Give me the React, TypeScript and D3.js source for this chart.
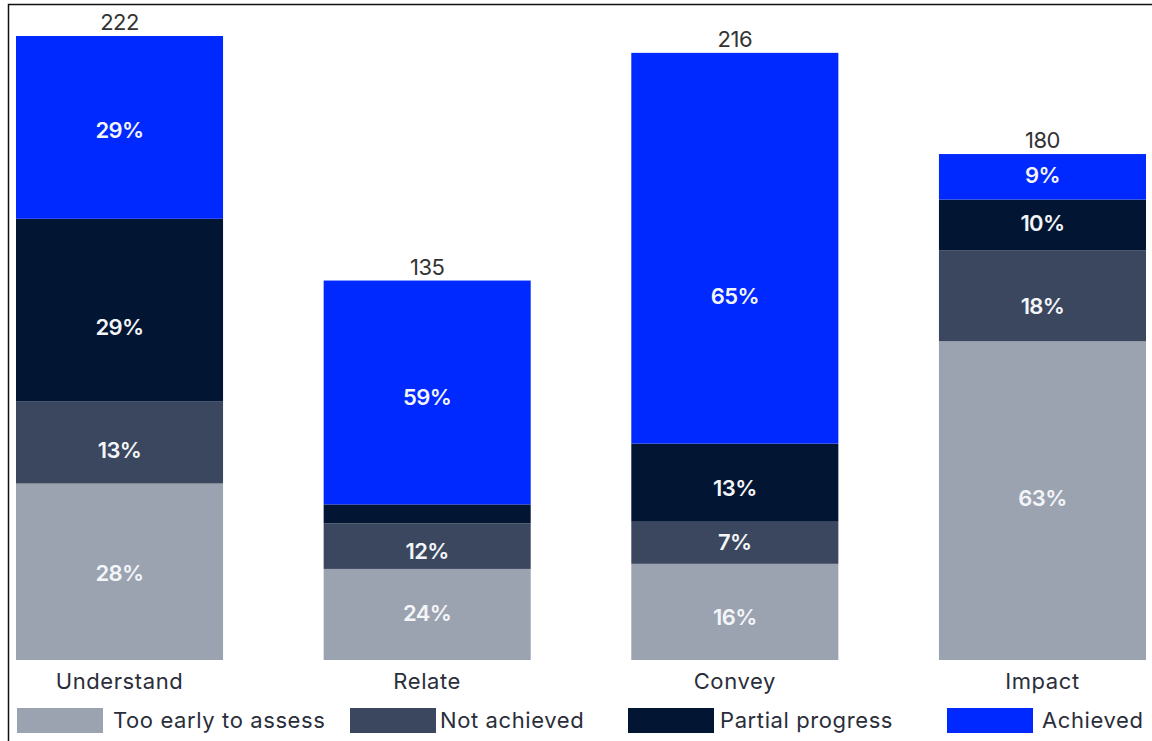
import React from "react";
import * as d3 from "d3";

const categories = ["Understand", "Relate", "Convey", "Impact"];
const totals = [222, 135, 216, 180];
const seriesNames = ["Too early to assess", "Not achieved", "Partial progress", "Achieved"];
// percentage shares per category, bottom to top
const tooEarly = [28, 24, 16, 63];
const notAchieved = [13, 12, 7, 18];
const partial = [29, 5, 13, 10];
const achieved = [29, 59, 65, 9];
const showLabel = [
  [true, true, true, true],
  [true, true, false, true],
  [true, true, true, true],
  [true, true, true, true],
];
const colors = ["#9ba3b0", "#3a475e", "#021634", "#0029ff"];

// layout: vertical nudge of each segment label from the segment middle (px)
const labelNudge = [
  [2, 8, 17, 3],
  [-1, 5, 0, 5],
  [5, 0, 6, 48],
  [-2, 11, -2, -2],
];

const W = 1152;
const H = 741;
const FONT = "Inter, 'Noto Sans', sans-serif";

export default function App() {
  const series = [tooEarly, notAchieved, partial, achieved];
  const x = d3.scaleBand<string>().domain(categories).range([16, 1146]).paddingInner(0.327).paddingOuter(0);
  const y = d3.scaleLinear().domain([0, d3.max(totals) as number]).range([660, 36]);

  const rows = categories.map((c, i) => {
    const obj: any = { cat: c };
    const sum = d3.sum(series, (s) => s[i]);
    seriesNames.forEach((s, j) => {
      obj[s] = (totals[i] * series[j][i]) / sum;
    });
    return obj;
  });
  const stack = d3.stack<any>().keys(seriesNames)(rows);

  const legendSwatchX = [17, 350, 628, 947];
  const legendTextX = [113, 440, 720, 1042];

  return (
    <svg width={W} height={H} style={{ position: "fixed", left: 0, top: 0, background: "#fff" }} fontFamily={FONT}>
      <rect x={0} y={0} width={W} height={H} fill="#fff" />
      <path d={`M8.5,${H} V4.5 H${W}`} fill="none" stroke="#111" strokeWidth={1.5} />
      {stack.map((layer, j) => (
        <g key={j}>
          {layer.map((d, i) => {
            const y0 = y(d[0]);
            const y1 = y(d[1]);
            return (
              <g key={i}>
                <rect x={x(categories[i])} y={y1} width={x.bandwidth()} height={y0 - y1} fill={colors[j]} />
                {showLabel[i][j] && (
                  <text
                    x={(x(categories[i]) as number) + x.bandwidth() / 2}
                    y={(y0 + y1) / 2 + labelNudge[i][j]}
                    dy="0.35em"
                    textAnchor="middle"
                    fill="#f4f5f8"
                    fontSize={22}
                    fontWeight={600}
                    letterSpacing={-0.6}
                  >
                    {series[j][i]}%
                  </text>
                )}
              </g>
            );
          })}
        </g>
      ))}
      {categories.map((c, i) => (
        <g key={c}>
          <text
            x={(x(c) as number) + x.bandwidth() / 2}
            y={y(totals[i]) - 6}
            textAnchor="middle"
            fill="#333"
            fontSize={22}
            letterSpacing={-0.5}
          >
            {totals[i]}
          </text>
          <text
            x={(x(c) as number) + x.bandwidth() / 2}
            y={681}
            dy="0.35em"
            textAnchor="middle"
            fill="#2a2e3a"
            fontSize={22}
            letterSpacing={0.6}
          >
            {c}
          </text>
        </g>
      ))}
      {seriesNames.map((s, j) => (
        <g key={s}>
          <rect x={legendSwatchX[j]} y={708} width={86} height={25} fill={colors[j]} />
          <text x={legendTextX[j]} y={720.5} dy="0.35em" fill="#2a2e3a" fontSize={22} letterSpacing={0.6}>
            {s}
          </text>
        </g>
      ))}
    </svg>
  );
}
